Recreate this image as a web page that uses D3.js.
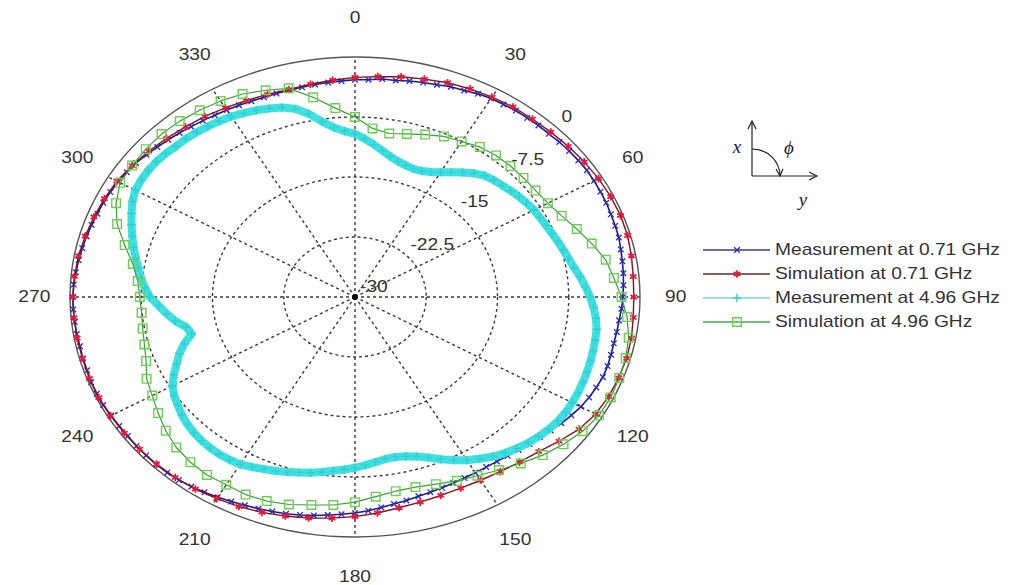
<!DOCTYPE html>
<html>
<head>
<meta charset="utf-8">
<script src="https://cdn.jsdelivr.net/npm/d3@7"></script>
<style>
  body { margin: 0; background: #fff; }
  svg { display: block; }
</style>
</head>
<body>
<svg id="chart" width="1036" height="585"></svg>
<script>
// Azimuth grid (degrees, clockwise from x axis at top)
const angleTicks  = [0, 30, 60, 90, 120, 150, 180, 210, 240, 270, 300, 330];
const angleLabels = ["0", "30", "60", "90", "120", "150", "180", "210", "240", "270", "300", "330"];

// Radial grid (dB)
const ringTicks  = [-30, -22.5, -15, -7.5, 0];
const ringLabels = ["-30", "-22.5", "-15", "-7.5", "0"];

const seriesNames = [
  "Measurement at 0.71 GHz",
  "Simulation at 0.71 GHz",
  "Measurement at 4.96 GHz",
  "Simulation at 4.96 GHz"
];

// sample grids: measurements every 3 deg, simulations every 5 deg
const measAngles = d3.range(0, 360, 3);
const simAngles  = d3.range(0, 360, 5);

// Measurement at 0.71 GHz (dB)
const measLowDb = [
  -2.85,-2.8,-2.6,-2.6,-2.4,-2.25,-2.1,-1.85,-1.75,-1.5,
  -1.35,-1.3,-1.2,-1.2,-1.15,-1.15,-1.05,-1.0,-0.95,-0.9,
  -0.95,-1.0,-1.05,-1.15,-1.2,-1.25,-1.4,-1.5,-1.6,-1.7,
  -1.8,-1.9,-2.05,-2.1,-2.15,-2.1,-2.05,-2.05,-2.2,-2.35,
  -2.55,-2.85,-3.15,-3.5,-3.8,-4.0,-4.25,-4.45,-4.6,-4.65,
  -4.65,-4.6,-4.55,-4.45,-4.35,-4.2,-4.0,-3.8,-3.55,-3.25,
  -3.0,-2.8,-2.6,-2.35,-2.15,-1.95,-1.8,-1.65,-1.5,-1.3,
  -1.1,-0.9,-0.7,-0.55,-0.45,-0.4,-0.4,-0.4,-0.45,-0.4,
  -0.35,-0.25,-0.25,-0.25,-0.35,-0.35,-0.4,-0.35,-0.35,-0.3,
  -0.3,-0.35,-0.45,-0.55,-0.65,-0.75,-0.85,-0.95,-1.0,-1.1,
  -1.2,-1.35,-1.5,-1.75,-2.0,-2.2,-2.4,-2.6,-2.75,-2.9,
  -3.0,-3.1,-3.2,-3.25,-3.25,-3.25,-3.2,-3.1,-3.05,-2.95
];

// Simulation at 0.71 GHz (dB)
const simLowDb = [
  -2.55,-2.35,-2.05,-1.8,-1.5,-1.3,-1.15,-1.0,-0.95,-0.85,-0.7,-0.55,
  -0.4,-0.3,-0.25,-0.3,-0.45,-0.6,-0.65,-0.6,-0.45,-0.4,-0.45,-0.55,
  -0.75,-1.2,-1.95,-2.65,-3.05,-3.35,-3.55,-3.65,-3.6,-3.45,-3.25,-2.9,
  -2.55,-2.25,-1.95,-1.65,-1.35,-1.1,-0.9,-0.7,-0.55,-0.45,-0.4,-0.35,
  -0.3,-0.25,-0.25,-0.3,-0.3,-0.3,-0.3,-0.35,-0.45,-0.6,-0.75,-0.9,
  -1.05,-1.35,-1.65,-1.95,-2.25,-2.45,-2.7,-2.9,-3.05,-3.15,-3.0,-2.8
];

// Measurement at 4.96 GHz (dB)
const measHighDb = [
  -9.6,-10.2,-10.85,-11.5,-12.05,-12.45,-12.7,-12.85,-12.75,-12.45,
  -12.0,-11.4,-10.75,-10.1,-9.6,-9.35,-9.15,-8.9,-8.65,-8.45,
  -8.25,-8.15,-8.0,-7.8,-7.55,-7.3,-7.0,-6.65,-6.15,-5.7,
  -5.25,-4.85,-4.5,-4.25,-4.15,-4.05,-3.95,-3.85,-3.75,-3.65,
  -3.6,-3.55,-3.6,-3.75,-3.95,-4.2,-4.55,-4.9,-5.35,-5.9,
  -6.45,-7.1,-7.8,-8.5,-9.05,-9.4,-9.55,-9.5,-9.25,-8.95,
  -8.65,-8.4,-8.15,-7.85,-7.55,-7.3,-7.0,-6.7,-6.45,-6.15,
  -5.85,-5.75,-5.7,-5.75,-5.85,-6.0,-6.25,-6.55,-6.95,-7.3,
  -7.8,-8.6,-9.45,-10.2,-11.1,-12.2,-11.85,-10.85,-10.05,-9.3,
  -8.4,-7.85,-7.35,-6.9,-6.4,-5.85,-5.35,-4.8,-4.25,-3.7,
  -3.3,-3.15,-3.1,-3.1,-3.2,-3.35,-3.4,-3.5,-3.65,-3.8,
  -3.95,-4.2,-4.45,-4.75,-5.1,-5.65,-6.6,-7.8,-8.7,-9.25
];

// Simulation at 4.96 GHz (dB)
const simHighDb = [
  -7.5,-8.85,-9.25,-8.9,-8.4,-7.85,-7.55,-7.1,-6.9,-6.85,-6.85,-6.8,
  -6.55,-6.0,-5.15,-4.2,-3.2,-2.65,-1.95,-1.25,-0.75,-0.5,-0.4,-0.3,
  -0.35,-0.75,-1.35,-2.05,-2.85,-3.6,-4.2,-4.65,-5.1,-5.4,-5.35,-4.95,
  -4.35,-3.9,-3.6,-3.15,-2.85,-2.75,-2.9,-2.85,-3.05,-3.4,-4.0,-4.7,
  -5.35,-5.8,-6.6,-7.05,-7.3,-7.45,-7.35,-7.05,-6.25,-4.9,-3.35,-2.25,
  -1.45,-1.35,-1.25,-1.2,-1.3,-1.5,-1.7,-2.0,-2.5,-3.0,-4.65,-6.3
];

// ---------------------------------------------------------------
const svg = d3.select("#chart");
const cx = 355, cy = 297;          // pole
const RX = 285, RY = 240;          // outer ring half-axes (0 dB)
const FONT = "'Liberation Sans', Arial, sans-serif";
const TEXT_COL = "#333";

const rX = d3.scaleLinear().domain([-30, 0]).range([0, RX]);
const rY = d3.scaleLinear().domain([-30, 0]).range([0, RY]);
const ang = d3.scaleLinear().domain([0, 360]).range([0, 2 * Math.PI]);

const px = (a, v) => cx + rX(v) * Math.sin(ang(a));
const py = (a, v) => cy - rY(v) * Math.cos(ang(a));

// text slightly stretched horizontally, like the rest of the figure
function label(g, x, y, str, anchor, size, baseline) {
  return g.append("text")
    .attr("transform", `translate(${x},${y}) scale(1.2,1)`)
    .attr("text-anchor", anchor)
    .attr("dominant-baseline", baseline || "central")
    .attr("font-family", FONT)
    .attr("font-size", size)
    .attr("fill", TEXT_COL)
    .text(str);
}

// ---- grid ----
const grid = svg.append("g");
ringTicks.slice(1, -1).forEach(v => {
  grid.append("ellipse")
    .attr("cx", cx).attr("cy", cy)
    .attr("rx", rX(v)).attr("ry", rY(v))
    .attr("fill", "none").attr("stroke", "#3a3a3a")
    .attr("stroke-width", 1.4).attr("stroke-dasharray", "3,3");
});
angleTicks.forEach(a => {
  grid.append("line")
    .attr("x1", cx).attr("y1", cy)
    .attr("x2", px(a, 0)).attr("y2", py(a, 0))
    .attr("stroke", "#3a3a3a").attr("stroke-width", 1.4)
    .attr("stroke-dasharray", "3,3");
});
grid.append("ellipse")
  .attr("cx", cx).attr("cy", cy)
  .attr("rx", rX(0)).attr("ry", rY(0))
  .attr("fill", "none").attr("stroke", "#555").attr("stroke-width", 1.4);

// ring labels along the 45 deg direction
ringTicks.forEach((v, i) => {
  label(grid, px(45, v) + 5, py(45, v) - 5, ringLabels[i], "start", 16, "auto");
});

// angle labels
angleTicks.forEach((a, i) => {
  const lx = cx + RX * 1.125 * Math.sin(ang(a));
  const ly = cy - RY * 1.165 * Math.cos(ang(a));
  label(grid, lx, ly, angleLabels[i], "middle", 16);
});

// ---- marker shapes ----
const markerPath = {
  times: s => `M${-s},${-s}L${s},${s}M${-s},${s}L${s},${-s}`,
  plus: s => `M${-s},0L${s},0M0,${-s}L0,${s}`,
  star: s => {
    const d = s * 0.87, h = s * 0.5;
    return `M0,${-s}L0,${s}M${-d},${-h}L${d},${h}M${-d},${h}L${d},${-h}`;
  },
  square: s => `M${-s},${-s}H${s}V${s}H${-s}Z`
};

const styles = [
  { line: "#1b1b8a", width: 1.6, marker: "times", mSize: 2.8, mColor: "#2a2ab8", mWidth: 1.3 },
  { line: "#8a1020", width: 1.4, marker: "star",  mSize: 3.8, mColor: "#e0183c", mWidth: 1.7 },
  { line: "#40e0e0", width: 8,   marker: "plus",  mSize: 4.2, mColor: "#2fd0d4", mWidth: 1.4 },
  { line: "#3c9e3c", width: 1.2, marker: "square", mSize: 4.3, mColor: "#6ccf52", mWidth: 1.4 }
];

const traces = svg.append("g");
function drawSeries(angles, values, st) {
  const pts = angles.map((a, i) => [px(a, values[i]), py(a, values[i])]);
  const g = traces.append("g");
  g.append("path")
    .attr("d", d3.line().curve(d3.curveLinearClosed)(pts))
    .attr("fill", "none")
    .attr("stroke", st.line)
    .attr("stroke-width", st.width)
    .attr("stroke-linejoin", "round");
  g.selectAll("path.m").data(pts).join("path")
    .attr("class", "m")
    .attr("transform", d => `translate(${d[0]},${d[1]})`)
    .attr("d", markerPath[st.marker](st.mSize))
    .attr("fill", "none")
    .attr("stroke", st.mColor)
    .attr("stroke-width", st.mWidth);
}

drawSeries(measAngles, measLowDb, styles[0]);
drawSeries(simAngles, simLowDb, styles[1]);
drawSeries(measAngles, measHighDb, styles[2]);
drawSeries(simAngles, simHighDb, styles[3]);

// pole
svg.append("circle").attr("cx", cx).attr("cy", cy).attr("r", 3).attr("fill", "#000");

// ---- legend ----
const legendRows = [250, 274, 298, 322];
const legendLine = ["#3c3c78", "#5a2a2a", "#7fd6d6", "#4aa84a"];
const legend = svg.append("g");
seriesNames.forEach((name, i) => {
  const y = legendRows[i];
  legend.append("line")
    .attr("x1", 703).attr("x2", 770).attr("y1", y).attr("y2", y)
    .attr("stroke", legendLine[i]).attr("stroke-width", 1.3);
  legend.append("path")
    .attr("transform", `translate(737,${y})`)
    .attr("d", markerPath[styles[i].marker](styles[i].mSize))
    .attr("fill", "none")
    .attr("stroke", styles[i].mColor)
    .attr("stroke-width", styles[i].mWidth);
  label(legend, 775, y, name, "start", 16);
});

// ---- coordinate sketch (x up, y right, phi measured from x) ----
const sk = svg.append("g").attr("stroke", "#222").attr("fill", "none").attr("stroke-width", 1.2);
const ox = 752, oy = 176;
sk.append("line").attr("x1", ox).attr("y1", oy).attr("x2", ox).attr("y2", 121);
sk.append("path").attr("d", `M${ox - 4},${129}L${ox},${121}L${ox + 4},${129}`);
sk.append("line").attr("x1", ox).attr("y1", oy).attr("x2", 817).attr("y2", oy);
sk.append("path").attr("d", `M809,${oy - 4}L817,${oy}L809,${oy + 4}`);
sk.append("path").attr("d", `M${ox},${oy - 27}A28,27 0 0 1 ${ox + 28},${oy}`);
sk.append("path").attr("d", `M${ox + 24},${oy - 7}L${ox + 28},${oy}L${ox + 31},${oy - 7}`);

const serif = "'Liberation Serif', 'Times New Roman', serif";
[["x", 737, 146], ["\u03D5", 789, 147], ["y", 803, 199]].forEach(([t, x, y]) => {
  svg.append("text")
    .attr("x", x).attr("y", y)
    .attr("text-anchor", "middle").attr("dominant-baseline", "central")
    .attr("font-family", serif).attr("font-style", "italic")
    .attr("font-size", 19).attr("fill", "#222")
    .text(t);
});
</script>
</body>
</html>
